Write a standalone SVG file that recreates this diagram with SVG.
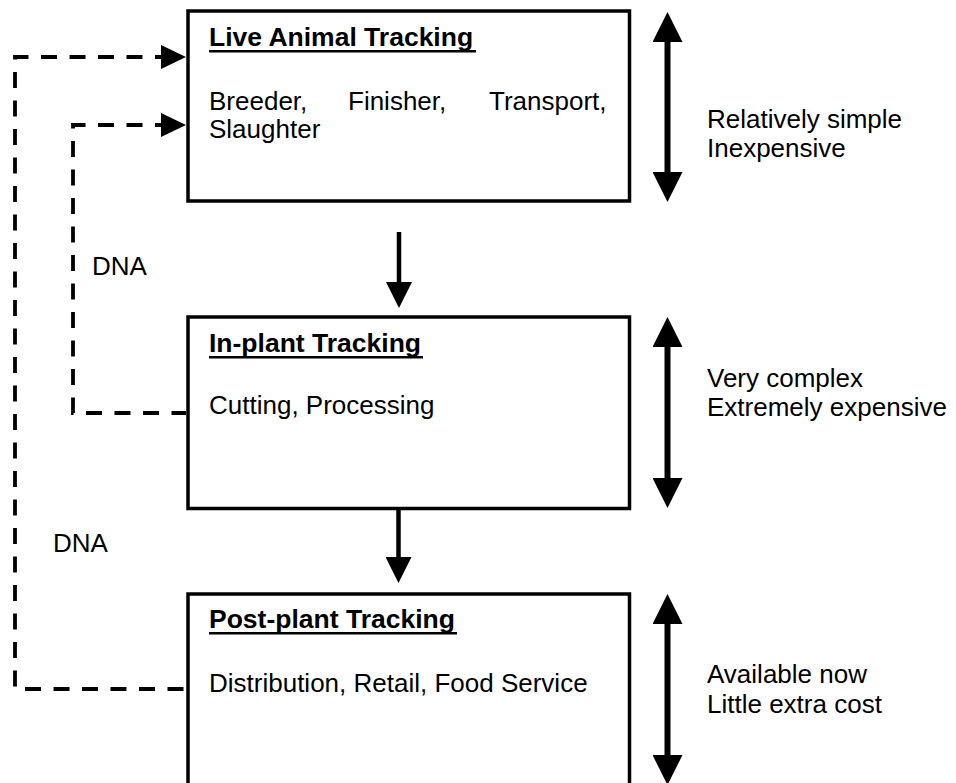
<svg xmlns="http://www.w3.org/2000/svg" width="956" height="783" viewBox="0 0 956 783">
<style>
  .box{fill:#fff;stroke:#000;stroke-width:3.5}
  .t{font-family:"Liberation Sans",Arial,sans-serif;font-size:26px;fill:#000}
  .h{font-family:"Liberation Sans",Arial,sans-serif;font-size:26.5px;font-weight:bold;fill:#000}
  .ul{stroke:#000;stroke-width:2.6}
  .solid{stroke:#000;fill:none}
  .dash{stroke:#000;fill:none;stroke-width:3.8;stroke-dasharray:16 12.5;stroke-dashoffset:9}
  .head{fill:#000}
</style>
<defs>
  <marker id="big" markerUnits="userSpaceOnUse" markerWidth="30" markerHeight="30" refX="0" refY="15" orient="auto-start-reverse" viewBox="0 0 30 30">
    <path d="M0,0 L30,15 L0,30 z" fill="#000"/>
  </marker>
  <marker id="mid" markerUnits="userSpaceOnUse" markerWidth="26" markerHeight="26" refX="0" refY="13" orient="auto" viewBox="0 0 26 26">
    <path d="M0,0 L26,13 L0,26 z" fill="#000"/>
  </marker>
</defs>

<g id="connectors">
  <path class="dash" d="M162 57 H15 V689 H186"/>
  <path class="head" d="M161 45 L186 57 L161 69 z"/>
  <path class="dash" d="M162 125 H73 V413 H186"/>
  <path class="head" d="M161 113 L186 125 L161 137 z"/>
  <line class="solid" x1="399" y1="232" x2="399" y2="282" stroke-width="4.5" marker-end="url(#mid)"/>
  <line class="solid" x1="398.5" y1="508" x2="398.5" y2="557" stroke-width="4.5" marker-end="url(#mid)"/>
  <line class="solid" x1="667.5" y1="42" x2="667.5" y2="172" stroke-width="6" marker-start="url(#big)" marker-end="url(#big)"/>
  <line class="solid" x1="667.5" y1="347" x2="667.5" y2="478" stroke-width="6" marker-start="url(#big)" marker-end="url(#big)"/>
  <line class="solid" x1="667.5" y1="624" x2="667.5" y2="755" stroke-width="6" marker-start="url(#big)" marker-end="url(#big)"/>
  <text class="t" x="92" y="275" font-size="27">DNA</text>
  <text class="t" x="53" y="552" font-size="27">DNA</text>
</g>

<g id="live">
  <rect class="box" x="188" y="11" width="441.5" height="190"/>
  <text class="h" x="209" y="46">Live Animal Tracking</text>
  <line class="ul" x1="209" y1="51.3" x2="476" y2="51.3"/>
  <text class="t" x="209" y="110">Breeder,</text>
  <text class="t" x="348" y="110">Finisher,</text>
  <text class="t" x="489" y="110">Transport,</text>
  <text class="t" x="209" y="138">Slaughter</text>
</g>

<g id="inplant">
  <rect class="box" x="188" y="317" width="441.5" height="191.5"/>
  <text class="h" x="209" y="352">In-plant Tracking</text>
  <line class="ul" x1="209" y1="357.3" x2="423" y2="357.3"/>
  <text class="t" x="209" y="414">Cutting, Processing</text>
</g>

<g id="postplant">
  <rect class="box" x="188" y="594" width="441.5" height="220"/>
  <text class="h" x="209" y="628">Post-plant Tracking</text>
  <line class="ul" x1="209" y1="633.3" x2="457" y2="633.3"/>
  <text class="t" x="209" y="692">Distribution, Retail, Food Service</text>
</g>

<g id="notes">
  <text class="t" x="707" y="128">Relatively simple</text>
  <text class="t" x="707" y="157">Inexpensive</text>
  <text class="t" x="707" y="387">Very complex</text>
  <text class="t" x="707" y="416">Extremely expensive</text>
  <text class="t" x="707" y="683">Available now</text>
  <text class="t" x="707" y="713">Little extra cost</text>
</g>
</svg>
